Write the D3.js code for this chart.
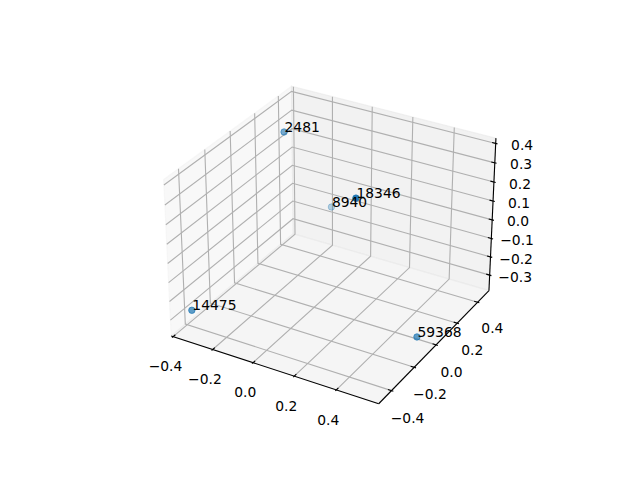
<!DOCTYPE html>
<html><head><meta charset="utf-8">
<style>html,body{margin:0;padding:0;background:#fff}text{font-family:"DejaVu Sans";font-size:13.89px;fill:#000}</style>
<script src="https://cdn.jsdelivr.net/npm/d3@7"></script></head><body>
<svg id="c" width="640" height="480"></svg>
<script>
const labels=["14475","2481","8940","18346","59368"];
const xVals=[-0.334,-0.255,-0.172,0.310,0.514];
const yVals=[-0.457,0.188,0.455,-0.191,-0.017];
const zVals=[-0.252,0.377,-0.132,0.387,-0.362];
const xLim=[-0.41,0.597], yLim=[-0.51,0.514], zLim=[-0.386,0.427];
const xTicks=[-0.4,-0.2,0,0.2,0.4], yTicks=[-0.4,-0.2,0,0.2,0.4];
const zTicks=[-0.3,-0.2,-0.1,0,0.1,0.2,0.3,0.4];
const sx=d3.scaleLinear().domain(xLim).range([-0.595,0.595]);
const sy=d3.scaleLinear().domain(yLim).range([-0.595,0.595]);
const sz=d3.scaleLinear().domain(zLim).range([-0.446,0.446]);
const px=d3.scaleLinear().domain([-0.095,0.09]).range([143.2,512.8]);
const py=d3.scaleLinear().domain([-0.095,0.09]).range([427.2,57.6]);
const n=[0.4330127,-0.75,0.5],u=[0.8660254,0.5,0],v=[-0.25,0.4330127,0.8660254],dist=10;
const dot=(a,b)=>a[0]*b[0]+a[1]*b[1]+a[2]*b[2];
const world=(x,y,z)=>[sx(x),sy(y),sz(z)];
const depth=(x,y,z)=>dot(world(x,y,z),n);
function proj(x,y,z){const p=world(x,y,z),w=dist-dot(p,n);return [px(dot(p,u)/w),py(dot(p,v)/w)];}
const svg=d3.select("#c");
const [x0,x1]=xLim,[y0,y1]=yLim,[z0,z1]=zLim;
const line=d3.line();
const poly=pts=>line(pts.map(p=>proj(...p)))+"Z";
const panes=[
 {c:"rgba(242,242,242,0.5)",p:[[x0,y0,z0],[x0,y1,z0],[x0,y1,z1],[x0,y0,z1]]},
 {c:"rgba(230,230,230,0.5)",p:[[x0,y1,z0],[x1,y1,z0],[x1,y1,z1],[x0,y1,z1]]},
 {c:"rgba(236,236,236,0.5)",p:[[x0,y0,z0],[x1,y0,z0],[x1,y1,z0],[x0,y1,z0]]}];
svg.selectAll("path.pane").data(panes).join("path").attr("class","pane").attr("d",d=>poly(d.p)).attr("fill",d=>d.c).attr("stroke",d=>d.c).attr("stroke-width",1.11);
const grid=[
 ...xTicks.map(t=>[[t,y0,z0],[t,y1,z0],[t,y1,z1]]),
 ...yTicks.map(t=>[[x1,t,z0],[x0,t,z0],[x0,t,z1]]),
 ...zTicks.map(t=>[[x0,y0,t],[x0,y1,t],[x1,y1,t]])];
svg.selectAll("path.grid").data(grid).join("path").attr("class","grid").attr("d",d=>line(d.map(p=>proj(...p)))).attr("fill","none").attr("stroke","#b0b0b0").attr("stroke-width",1.11);
const dx=(x1-x0)/12,dy=(y1-y0)/12,dz=(z1-z0)/12;
const axes=[[[x0,y0,z0],[x1,y0,z0]],[[x1,y0,z0],[x1,y1,z0]],[[x1,y1,z0],[x1,y1,z1]]];
const ticks=[
 ...xTicks.map(t=>[[t,y0-0.1*dy,z0],[t,y0+0.2*dy,z0]]),
 ...yTicks.map(t=>[[x1+0.1*dx,t,z0],[x1-0.2*dx,t,z0]]),
 ...zTicks.map(t=>[[x1+0.1*dx,y1,t],[x1-0.2*dx,y1,t]])];
svg.selectAll("path.ax").data([...axes,...ticks]).join("path").attr("class","ax").attr("d",d=>line(d.map(p=>proj(...p)))).attr("fill","none").attr("stroke","#000").attr("stroke-width",1.11);
const fmt=t=>(t<0?"\u2212":"")+Math.abs(t).toFixed(1);
const tl=[
 ...xTicks.map(t=>({t,p:[t,y0-0.78*dy,z0-1.7*dz]})),
 ...yTicks.map(t=>({t,p:[x1+0.91*dx,t,z0-1.7*dz]})),
 ...zTicks.map(t=>({t,p:[x1+1.2*dx,y1+0.57*dy,t]}))];
svg.selectAll("text.tl").data(tl).join("text").attr("class","tl").text(d=>fmt(d.t)).attr("text-anchor","middle").attr("dy","0.4em")
 .attr("x",d=>proj(...d.p)[0]).attr("y",d=>proj(...d.p)[1]);
const pts=labels.map((l,i)=>({l,x:xVals[i],y:yVals[i],z:zVals[i]}));
const ds=pts.map(d=>depth(d.x,d.y,d.z));
const alpha=d3.scaleLinear().domain(d3.extent(ds)).range([0.3,1]);
const sorted=pts.slice().sort((a,b)=>depth(a.x,a.y,a.z)-depth(b.x,b.y,b.z));
svg.selectAll("circle").data(sorted).join("circle").attr("cx",d=>proj(d.x,d.y,d.z)[0]).attr("cy",d=>proj(d.x,d.y,d.z)[1]).attr("r",3.2)
 .attr("fill","#1f77b4").attr("stroke","#1f77b4").attr("stroke-width",1).attr("fill-opacity",d=>alpha(depth(d.x,d.y,d.z))).attr("stroke-opacity",d=>alpha(depth(d.x,d.y,d.z)));
svg.selectAll("text.lb").data(pts).join("text").attr("class","lb").text(d=>d.l).attr("x",d=>proj(d.x,d.y,d.z)[0]).attr("y",d=>proj(d.x,d.y,d.z)[1]).attr("dx",0.5);
</script></body></html>
